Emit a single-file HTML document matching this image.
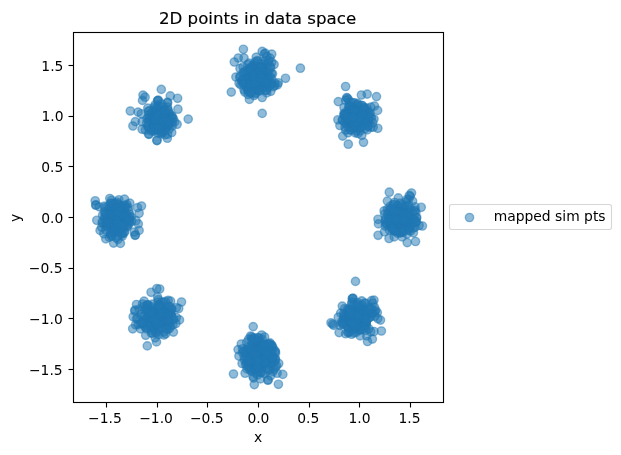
<!DOCTYPE html>
<html lang="en">
<head>
<meta charset="utf-8">
<title>2D points in data space</title>
<style>
html,body{margin:0;padding:0;background:#fff;}
body{width:621px;height:455px;overflow:hidden;}
svg{display:block;}
text{font-family:"DejaVu Sans","Liberation Sans",sans-serif;fill:#000;}
.t{font-size:13.889px;}
.ttl{font-size:16.667px;stroke:#000;stroke-width:0.15px;}
.pt{fill:#1f77b4;fill-opacity:.5;stroke:#1f77b4;stroke-opacity:.5;stroke-width:1.389;}
.ax{stroke:#000;stroke-width:1.111;fill:none;}
</style>
</head>
<body>
<svg width="621" height="455" viewBox="0 0 621 455">
<rect x="0" y="0" width="621" height="455" fill="#fff"/>
<defs><clipPath id="axclip"><rect x="73.5" y="32.5" width="370" height="370"/></clipPath></defs>
<g class="pt" clip-path="url(#axclip)">
<circle cx="243.4" cy="49.3" r="4.167"/><circle cx="262.2" cy="51.4" r="4.167"/><circle cx="271.7" cy="54.2" r="4.167"/><circle cx="265.2" cy="53.1" r="4.167"/>
<circle cx="238.3" cy="58.0" r="4.167"/><circle cx="234.3" cy="62.0" r="4.167"/><circle cx="244.0" cy="58.0" r="4.167"/><circle cx="256.2" cy="57.1" r="4.167"/>
<circle cx="300.4" cy="68.2" r="4.167"/><circle cx="285.5" cy="78.3" r="4.167"/><circle cx="231.3" cy="92.1" r="4.167"/><circle cx="249.4" cy="99.4" r="4.167"/>
<circle cx="262.2" cy="97.5" r="4.167"/><circle cx="270.8" cy="91.3" r="4.167"/><circle cx="278.2" cy="82.8" r="4.167"/><circle cx="274.1" cy="64.5" r="4.167"/>
<circle cx="272.5" cy="73.7" r="4.167"/><circle cx="235.9" cy="77.0" r="4.167"/><circle cx="240.0" cy="68.5" r="4.167"/><circle cx="239.1" cy="83.2" r="4.167"/>
<circle cx="244.0" cy="89.7" r="4.167"/><circle cx="274.9" cy="85.6" r="4.167"/><circle cx="262.2" cy="113.4" r="4.167"/><circle cx="264.3" cy="54.2" r="4.167"/>
<circle cx="266.8" cy="56.5" r="4.167"/><circle cx="270.0" cy="58.1" r="4.167"/><circle cx="268.7" cy="60.7" r="4.167"/><circle cx="271.7" cy="62.3" r="4.167"/>
<circle cx="240.8" cy="84.8" r="4.167"/><circle cx="244.8" cy="92.1" r="4.167"/><circle cx="242.4" cy="79.9" r="4.167"/><circle cx="248.1" cy="94.5" r="4.167"/>
<circle cx="254.1" cy="95.5" r="4.167"/><circle cx="274.9" cy="83.2" r="4.167"/><circle cx="277.5" cy="84.8" r="4.167"/><circle cx="273.3" cy="86.7" r="4.167"/>
<circle cx="255.7" cy="92.9" r="4.167"/><circle cx="266.8" cy="92.9" r="4.167"/><circle cx="258.9" cy="80.1" r="4.167"/><circle cx="256.7" cy="77.6" r="4.167"/>
<circle cx="256.5" cy="75.7" r="4.167"/><circle cx="258.9" cy="81.5" r="4.167"/><circle cx="251.2" cy="79.4" r="4.167"/><circle cx="262.6" cy="73.5" r="4.167"/>
<circle cx="255.6" cy="81.1" r="4.167"/><circle cx="254.5" cy="74.4" r="4.167"/><circle cx="261.0" cy="78.2" r="4.167"/><circle cx="253.2" cy="81.2" r="4.167"/>
<circle cx="258.8" cy="72.7" r="4.167"/><circle cx="257.0" cy="84.4" r="4.167"/><circle cx="254.8" cy="75.2" r="4.167"/><circle cx="263.0" cy="73.7" r="4.167"/>
<circle cx="253.1" cy="80.5" r="4.167"/><circle cx="257.2" cy="72.9" r="4.167"/><circle cx="264.0" cy="82.4" r="4.167"/><circle cx="250.8" cy="77.0" r="4.167"/>
<circle cx="262.5" cy="72.5" r="4.167"/><circle cx="256.8" cy="82.0" r="4.167"/><circle cx="252.6" cy="72.0" r="4.167"/><circle cx="263.8" cy="79.1" r="4.167"/>
<circle cx="251.6" cy="79.6" r="4.167"/><circle cx="259.9" cy="68.5" r="4.167"/><circle cx="259.7" cy="85.2" r="4.167"/><circle cx="248.0" cy="74.1" r="4.167"/>
<circle cx="263.5" cy="72.8" r="4.167"/><circle cx="252.1" cy="85.1" r="4.167"/><circle cx="252.6" cy="66.9" r="4.167"/><circle cx="266.3" cy="81.9" r="4.167"/>
<circle cx="248.6" cy="82.0" r="4.167"/><circle cx="262.8" cy="69.2" r="4.167"/><circle cx="257.2" cy="88.3" r="4.167"/><circle cx="250.0" cy="72.5" r="4.167"/>
<circle cx="266.5" cy="76.1" r="4.167"/><circle cx="247.7" cy="85.8" r="4.167"/><circle cx="255.1" cy="66.2" r="4.167"/><circle cx="264.4" cy="85.5" r="4.167"/>
<circle cx="246.6" cy="76.9" r="4.167"/><circle cx="263.1" cy="70.8" r="4.167"/><circle cx="256.6" cy="89.8" r="4.167"/><circle cx="249.4" cy="69.0" r="4.167"/>
<circle cx="267.9" cy="79.2" r="4.167"/><circle cx="245.5" cy="82.5" r="4.167"/><circle cx="262.5" cy="67.0" r="4.167"/><circle cx="260.0" cy="88.5" r="4.167"/>
<circle cx="248.0" cy="72.1" r="4.167"/><circle cx="267.3" cy="74.4" r="4.167"/><circle cx="248.5" cy="88.5" r="4.167"/><circle cx="252.8" cy="65.2" r="4.167"/>
<circle cx="267.0" cy="84.4" r="4.167"/><circle cx="244.2" cy="78.5" r="4.167"/><circle cx="265.7" cy="66.0" r="4.167"/><circle cx="256.3" cy="90.6" r="4.167"/>
<circle cx="249.3" cy="68.1" r="4.167"/><circle cx="268.6" cy="78.9" r="4.167"/><circle cx="246.9" cy="88.3" r="4.167"/><circle cx="260.3" cy="66.5" r="4.167"/>
<circle cx="263.0" cy="87.9" r="4.167"/><circle cx="244.1" cy="72.8" r="4.167"/><circle cx="267.5" cy="71.8" r="4.167"/><circle cx="251.7" cy="90.1" r="4.167"/>
<circle cx="253.4" cy="65.2" r="4.167"/><circle cx="269.8" cy="82.9" r="4.167"/><circle cx="243.6" cy="81.7" r="4.167"/><circle cx="263.6" cy="64.1" r="4.167"/>
<circle cx="260.4" cy="90.7" r="4.167"/><circle cx="245.4" cy="71.5" r="4.167"/><circle cx="271.3" cy="73.4" r="4.167"/><circle cx="248.2" cy="91.2" r="4.167"/>
<circle cx="258.2" cy="61.3" r="4.167"/><circle cx="267.8" cy="87.6" r="4.167"/><circle cx="239.7" cy="77.6" r="4.167"/><circle cx="270.0" cy="66.5" r="4.167"/>
<circle cx="255.2" cy="93.7" r="4.167"/><circle cx="247.8" cy="64.7" r="4.167"/><circle cx="271.6" cy="78.5" r="4.167"/><circle cx="245.2" cy="84.0" r="4.167"/>
<circle cx="261.0" cy="63.5" r="4.167"/><circle cx="265.7" cy="90.4" r="4.167"/><circle cx="243.3" cy="72.2" r="4.167"/><circle cx="268.6" cy="71.4" r="4.167"/>
<circle cx="250.8" cy="92.5" r="4.167"/><circle cx="255.0" cy="62.2" r="4.167"/><circle cx="270.0" cy="85.6" r="4.167"/><circle cx="242.0" cy="81.4" r="4.167"/>
<circle cx="267.9" cy="62.9" r="4.167"/><circle cx="258.9" cy="90.8" r="4.167"/><circle cx="243.1" cy="66.8" r="4.167"/><circle cx="270.0" cy="77.3" r="4.167"/>
<circle cx="247.3" cy="88.0" r="4.167"/><circle cx="257.0" cy="60.6" r="4.167"/><circle cx="266.4" cy="90.4" r="4.167"/><circle cx="240.2" cy="76.0" r="4.167"/>
<circle cx="270.7" cy="67.7" r="4.167"/><circle cx="250.5" cy="93.2" r="4.167"/><circle cx="249.0" cy="63.2" r="4.167"/><circle cx="271.7" cy="83.6" r="4.167"/>
<circle cx="243.0" cy="83.8" r="4.167"/><circle cx="264.4" cy="61.1" r="4.167"/><circle cx="250.5" cy="76.9" r="4.167"/><circle cx="264.1" cy="79.5" r="4.167"/>
<circle cx="256.9" cy="82.1" r="4.167"/><circle cx="260.7" cy="78.4" r="4.167"/><circle cx="260.5" cy="67.8" r="4.167"/><circle cx="260.9" cy="68.6" r="4.167"/>
<circle cx="257.5" cy="82.3" r="4.167"/><circle cx="255.7" cy="81.5" r="4.167"/><circle cx="261.2" cy="66.8" r="4.167"/><circle cx="255.8" cy="79.5" r="4.167"/>
<circle cx="253.4" cy="68.5" r="4.167"/><circle cx="264.2" cy="78.0" r="4.167"/><circle cx="252.9" cy="71.2" r="4.167"/><circle cx="255.8" cy="83.4" r="4.167"/>
<circle cx="253.4" cy="79.4" r="4.167"/><circle cx="257.8" cy="75.3" r="4.167"/><circle cx="256.3" cy="77.0" r="4.167"/><circle cx="251.0" cy="68.3" r="4.167"/>
<circle cx="260.1" cy="85.1" r="4.167"/><circle cx="259.5" cy="71.8" r="4.167"/><circle cx="256.5" cy="73.7" r="4.167"/><circle cx="248.7" cy="70.9" r="4.167"/>
<circle cx="253.3" cy="79.9" r="4.167"/><circle cx="250.2" cy="83.4" r="4.167"/><circle cx="256.6" cy="83.8" r="4.167"/><circle cx="261.9" cy="78.0" r="4.167"/>
<circle cx="257.2" cy="78.8" r="4.167"/><circle cx="258.2" cy="81.1" r="4.167"/><circle cx="266.7" cy="80.7" r="4.167"/><circle cx="265.3" cy="82.6" r="4.167"/>
<circle cx="254.7" cy="80.0" r="4.167"/><circle cx="260.3" cy="82.2" r="4.167"/><circle cx="254.6" cy="83.4" r="4.167"/><circle cx="253.5" cy="76.1" r="4.167"/>
<circle cx="260.3" cy="78.1" r="4.167"/><circle cx="345.6" cy="86.5" r="4.167"/><circle cx="361.4" cy="95.0" r="4.167"/><circle cx="367.2" cy="94.1" r="4.167"/>
<circle cx="376.5" cy="96.6" r="4.167"/><circle cx="338.3" cy="101.6" r="4.167"/><circle cx="347.2" cy="98.2" r="4.167"/><circle cx="374.4" cy="106.0" r="4.167"/>
<circle cx="377.6" cy="110.4" r="4.167"/><circle cx="337.9" cy="119.8" r="4.167"/><circle cx="339.9" cy="125.5" r="4.167"/><circle cx="342.7" cy="136.1" r="4.167"/>
<circle cx="348.3" cy="144.2" r="4.167"/><circle cx="363.5" cy="142.3" r="4.167"/><circle cx="361.8" cy="135.3" r="4.167"/><circle cx="377.8" cy="128.3" r="4.167"/>
<circle cx="373.2" cy="127.2" r="4.167"/><circle cx="374.0" cy="119.0" r="4.167"/><circle cx="348.0" cy="132.8" r="4.167"/><circle cx="344.0" cy="107.6" r="4.167"/>
<circle cx="342.3" cy="119.8" r="4.167"/><circle cx="355.3" cy="132.8" r="4.167"/><circle cx="346.7" cy="97.6" r="4.167"/><circle cx="348.3" cy="99.5" r="4.167"/>
<circle cx="345.7" cy="100.2" r="4.167"/><circle cx="349.7" cy="102.0" r="4.167"/><circle cx="371.6" cy="118.2" r="4.167"/><circle cx="372.7" cy="122.6" r="4.167"/>
<circle cx="370.8" cy="127.2" r="4.167"/><circle cx="370.0" cy="113.3" r="4.167"/><circle cx="344.0" cy="113.3" r="4.167"/><circle cx="345.1" cy="127.2" r="4.167"/>
<circle cx="357.6" cy="115.3" r="4.167"/><circle cx="356.8" cy="120.0" r="4.167"/><circle cx="357.3" cy="115.6" r="4.167"/><circle cx="361.2" cy="121.4" r="4.167"/>
<circle cx="355.2" cy="117.9" r="4.167"/><circle cx="359.4" cy="116.8" r="4.167"/><circle cx="354.5" cy="121.4" r="4.167"/><circle cx="355.0" cy="111.7" r="4.167"/>
<circle cx="361.4" cy="121.3" r="4.167"/><circle cx="352.8" cy="118.2" r="4.167"/><circle cx="359.4" cy="114.0" r="4.167"/><circle cx="359.2" cy="123.0" r="4.167"/>
<circle cx="351.2" cy="115.4" r="4.167"/><circle cx="363.4" cy="118.0" r="4.167"/><circle cx="356.0" cy="123.6" r="4.167"/><circle cx="354.7" cy="109.6" r="4.167"/>
<circle cx="360.8" cy="122.4" r="4.167"/><circle cx="350.2" cy="119.6" r="4.167"/><circle cx="362.3" cy="113.2" r="4.167"/><circle cx="358.0" cy="125.3" r="4.167"/>
<circle cx="351.4" cy="115.0" r="4.167"/><circle cx="366.1" cy="120.6" r="4.167"/><circle cx="350.7" cy="119.9" r="4.167"/><circle cx="357.2" cy="108.7" r="4.167"/>
<circle cx="362.2" cy="125.8" r="4.167"/><circle cx="352.0" cy="117.8" r="4.167"/><circle cx="365.1" cy="114.6" r="4.167"/><circle cx="354.0" cy="125.2" r="4.167"/>
<circle cx="353.4" cy="110.1" r="4.167"/><circle cx="365.1" cy="121.4" r="4.167"/><circle cx="348.5" cy="120.6" r="4.167"/><circle cx="363.6" cy="110.1" r="4.167"/>
<circle cx="359.2" cy="126.3" r="4.167"/><circle cx="350.3" cy="111.5" r="4.167"/><circle cx="365.9" cy="116.2" r="4.167"/><circle cx="351.9" cy="126.4" r="4.167"/>
<circle cx="356.4" cy="109.5" r="4.167"/><circle cx="363.1" cy="124.7" r="4.167"/><circle cx="345.6" cy="113.9" r="4.167"/><circle cx="365.9" cy="110.2" r="4.167"/>
<circle cx="356.7" cy="128.0" r="4.167"/><circle cx="352.6" cy="110.4" r="4.167"/><circle cx="366.8" cy="116.6" r="4.167"/><circle cx="346.6" cy="123.8" r="4.167"/>
<circle cx="363.3" cy="107.4" r="4.167"/><circle cx="360.4" cy="126.3" r="4.167"/><circle cx="348.9" cy="110.8" r="4.167"/><circle cx="365.8" cy="114.6" r="4.167"/>
<circle cx="352.3" cy="127.2" r="4.167"/><circle cx="356.5" cy="105.0" r="4.167"/><circle cx="364.7" cy="123.9" r="4.167"/><circle cx="346.8" cy="118.8" r="4.167"/>
<circle cx="366.9" cy="108.0" r="4.167"/><circle cx="358.6" cy="129.0" r="4.167"/><circle cx="350.1" cy="108.6" r="4.167"/><circle cx="368.2" cy="120.3" r="4.167"/>
<circle cx="348.4" cy="127.6" r="4.167"/><circle cx="358.1" cy="104.9" r="4.167"/><circle cx="365.3" cy="125.0" r="4.167"/><circle cx="344.2" cy="114.9" r="4.167"/>
<circle cx="368.2" cy="112.1" r="4.167"/><circle cx="353.4" cy="128.2" r="4.167"/><circle cx="353.5" cy="106.5" r="4.167"/><circle cx="367.1" cy="122.9" r="4.167"/>
<circle cx="348.3" cy="122.3" r="4.167"/><circle cx="361.7" cy="105.5" r="4.167"/><circle cx="360.1" cy="131.0" r="4.167"/><circle cx="348.2" cy="109.3" r="4.167"/>
<circle cx="368.9" cy="116.7" r="4.167"/><circle cx="350.6" cy="130.1" r="4.167"/><circle cx="354.7" cy="102.9" r="4.167"/><circle cx="368.0" cy="126.0" r="4.167"/>
<circle cx="345.1" cy="117.5" r="4.167"/><circle cx="366.1" cy="110.1" r="4.167"/><circle cx="356.2" cy="131.1" r="4.167"/><circle cx="349.4" cy="106.7" r="4.167"/>
<circle cx="368.4" cy="119.3" r="4.167"/><circle cx="344.7" cy="122.8" r="4.167"/><circle cx="362.2" cy="105.5" r="4.167"/><circle cx="365.0" cy="128.6" r="4.167"/>
<circle cx="345.3" cy="113.4" r="4.167"/><circle cx="369.3" cy="113.2" r="4.167"/><circle cx="350.2" cy="129.8" r="4.167"/><circle cx="352.5" cy="102.5" r="4.167"/>
<circle cx="368.1" cy="126.6" r="4.167"/><circle cx="342.6" cy="120.3" r="4.167"/><circle cx="364.8" cy="108.0" r="4.167"/><circle cx="358.0" cy="133.5" r="4.167"/>
<circle cx="349.0" cy="106.3" r="4.167"/><circle cx="370.6" cy="116.8" r="4.167"/><circle cx="345.6" cy="130.1" r="4.167"/><circle cx="357.7" cy="103.4" r="4.167"/>
<circle cx="367.2" cy="129.9" r="4.167"/><circle cx="344.2" cy="115.1" r="4.167"/><circle cx="370.8" cy="107.2" r="4.167"/><circle cx="353.8" cy="124.1" r="4.167"/>
<circle cx="347.2" cy="120.2" r="4.167"/><circle cx="355.4" cy="114.8" r="4.167"/><circle cx="354.1" cy="124.5" r="4.167"/><circle cx="350.0" cy="122.1" r="4.167"/>
<circle cx="359.8" cy="115.5" r="4.167"/><circle cx="357.0" cy="121.4" r="4.167"/><circle cx="354.6" cy="109.7" r="4.167"/><circle cx="358.8" cy="113.3" r="4.167"/>
<circle cx="355.5" cy="118.0" r="4.167"/><circle cx="361.0" cy="127.3" r="4.167"/><circle cx="359.1" cy="118.3" r="4.167"/><circle cx="361.4" cy="119.2" r="4.167"/>
<circle cx="349.3" cy="114.6" r="4.167"/><circle cx="351.5" cy="121.4" r="4.167"/><circle cx="363.6" cy="119.6" r="4.167"/><circle cx="352.5" cy="121.9" r="4.167"/>
<circle cx="352.8" cy="119.1" r="4.167"/><circle cx="351.7" cy="110.4" r="4.167"/><circle cx="350.7" cy="117.8" r="4.167"/><circle cx="354.3" cy="120.0" r="4.167"/>
<circle cx="351.2" cy="120.3" r="4.167"/><circle cx="354.5" cy="124.3" r="4.167"/><circle cx="362.4" cy="116.6" r="4.167"/><circle cx="358.0" cy="119.0" r="4.167"/>
<circle cx="359.7" cy="116.3" r="4.167"/><circle cx="362.7" cy="115.0" r="4.167"/><circle cx="348.2" cy="119.0" r="4.167"/><circle cx="356.9" cy="122.1" r="4.167"/>
<circle cx="360.3" cy="118.4" r="4.167"/><circle cx="358.0" cy="118.4" r="4.167"/><circle cx="354.3" cy="111.3" r="4.167"/><circle cx="353.5" cy="117.2" r="4.167"/>
<circle cx="346.5" cy="115.4" r="4.167"/><circle cx="352.7" cy="117.3" r="4.167"/><circle cx="389.3" cy="192.2" r="4.167"/><circle cx="411.5" cy="193.0" r="4.167"/>
<circle cx="410.2" cy="196.3" r="4.167"/><circle cx="398.3" cy="197.9" r="4.167"/><circle cx="387.4" cy="201.1" r="4.167"/><circle cx="412.6" cy="201.1" r="4.167"/>
<circle cx="421.2" cy="207.3" r="4.167"/><circle cx="384.1" cy="210.9" r="4.167"/><circle cx="378.0" cy="219.3" r="4.167"/><circle cx="378.5" cy="223.9" r="4.167"/>
<circle cx="378.1" cy="235.3" r="4.167"/><circle cx="384.5" cy="231.7" r="4.167"/><circle cx="389.0" cy="238.5" r="4.167"/><circle cx="402.0" cy="236.9" r="4.167"/>
<circle cx="407.2" cy="242.6" r="4.167"/><circle cx="415.5" cy="241.5" r="4.167"/><circle cx="413.4" cy="232.8" r="4.167"/><circle cx="422.4" cy="226.0" r="4.167"/>
<circle cx="419.1" cy="225.5" r="4.167"/><circle cx="416.7" cy="217.4" r="4.167"/><circle cx="415.0" cy="206.8" r="4.167"/><circle cx="394.2" cy="236.9" r="4.167"/>
<circle cx="408.5" cy="230.4" r="4.167"/><circle cx="409.3" cy="195.4" r="4.167"/><circle cx="408.5" cy="199.5" r="4.167"/><circle cx="406.1" cy="202.0" r="4.167"/>
<circle cx="415.9" cy="212.5" r="4.167"/><circle cx="416.3" cy="221.5" r="4.167"/><circle cx="415.0" cy="227.2" r="4.167"/><circle cx="399.4" cy="219.0" r="4.167"/>
<circle cx="399.0" cy="220.8" r="4.167"/><circle cx="398.7" cy="217.3" r="4.167"/><circle cx="402.3" cy="222.1" r="4.167"/><circle cx="397.0" cy="219.4" r="4.167"/>
<circle cx="405.6" cy="215.8" r="4.167"/><circle cx="398.5" cy="225.0" r="4.167"/><circle cx="395.9" cy="215.0" r="4.167"/><circle cx="403.4" cy="220.4" r="4.167"/>
<circle cx="395.4" cy="218.4" r="4.167"/><circle cx="400.7" cy="212.0" r="4.167"/><circle cx="401.0" cy="223.3" r="4.167"/><circle cx="396.3" cy="215.0" r="4.167"/>
<circle cx="407.7" cy="216.9" r="4.167"/><circle cx="396.3" cy="224.0" r="4.167"/><circle cx="398.8" cy="210.7" r="4.167"/><circle cx="405.2" cy="223.6" r="4.167"/>
<circle cx="392.9" cy="219.7" r="4.167"/><circle cx="403.7" cy="213.2" r="4.167"/><circle cx="398.5" cy="224.1" r="4.167"/><circle cx="395.2" cy="212.1" r="4.167"/>
<circle cx="407.2" cy="222.4" r="4.167"/><circle cx="393.3" cy="223.4" r="4.167"/><circle cx="402.7" cy="212.2" r="4.167"/><circle cx="405.9" cy="225.3" r="4.167"/>
<circle cx="393.7" cy="215.9" r="4.167"/><circle cx="406.0" cy="213.9" r="4.167"/><circle cx="397.5" cy="227.8" r="4.167"/><circle cx="398.1" cy="209.1" r="4.167"/>
<circle cx="407.2" cy="221.5" r="4.167"/><circle cx="388.3" cy="221.1" r="4.167"/><circle cx="406.6" cy="212.1" r="4.167"/><circle cx="400.3" cy="229.6" r="4.167"/>
<circle cx="391.2" cy="213.1" r="4.167"/><circle cx="410.4" cy="217.4" r="4.167"/><circle cx="391.8" cy="226.9" r="4.167"/><circle cx="399.4" cy="207.8" r="4.167"/>
<circle cx="407.2" cy="226.1" r="4.167"/><circle cx="389.7" cy="216.6" r="4.167"/><circle cx="408.8" cy="211.1" r="4.167"/><circle cx="397.2" cy="227.0" r="4.167"/>
<circle cx="395.2" cy="209.6" r="4.167"/><circle cx="410.7" cy="219.6" r="4.167"/><circle cx="390.0" cy="223.3" r="4.167"/><circle cx="404.9" cy="206.2" r="4.167"/>
<circle cx="404.3" cy="230.5" r="4.167"/><circle cx="387.8" cy="213.9" r="4.167"/><circle cx="409.3" cy="215.3" r="4.167"/><circle cx="394.1" cy="230.4" r="4.167"/>
<circle cx="397.3" cy="206.2" r="4.167"/><circle cx="410.0" cy="225.7" r="4.167"/><circle cx="389.0" cy="219.5" r="4.167"/><circle cx="409.1" cy="209.6" r="4.167"/>
<circle cx="400.3" cy="232.3" r="4.167"/><circle cx="390.3" cy="209.2" r="4.167"/><circle cx="412.7" cy="219.2" r="4.167"/><circle cx="389.9" cy="226.3" r="4.167"/>
<circle cx="401.0" cy="207.0" r="4.167"/><circle cx="409.2" cy="227.7" r="4.167"/><circle cx="388.8" cy="216.7" r="4.167"/><circle cx="412.4" cy="212.4" r="4.167"/>
<circle cx="394.7" cy="231.1" r="4.167"/><circle cx="393.0" cy="204.5" r="4.167"/><circle cx="411.8" cy="224.3" r="4.167"/><circle cx="386.6" cy="223.5" r="4.167"/>
<circle cx="404.1" cy="207.9" r="4.167"/><circle cx="402.8" cy="232.1" r="4.167"/><circle cx="388.9" cy="210.5" r="4.167"/><circle cx="416.4" cy="217.9" r="4.167"/>
<circle cx="392.5" cy="230.0" r="4.167"/><circle cx="397.6" cy="205.1" r="4.167"/><circle cx="409.1" cy="228.7" r="4.167"/><circle cx="385.6" cy="220.0" r="4.167"/>
<circle cx="410.8" cy="209.2" r="4.167"/><circle cx="399.9" cy="233.1" r="4.167"/><circle cx="390.2" cy="206.3" r="4.167"/><circle cx="415.7" cy="221.5" r="4.167"/>
<circle cx="386.4" cy="224.2" r="4.167"/><circle cx="402.3" cy="204.6" r="4.167"/><circle cx="407.0" cy="234.1" r="4.167"/><circle cx="384.7" cy="214.0" r="4.167"/>
<circle cx="415.2" cy="210.3" r="4.167"/><circle cx="395.8" cy="231.2" r="4.167"/><circle cx="393.8" cy="205.0" r="4.167"/><circle cx="413.3" cy="228.1" r="4.167"/>
<circle cx="385.2" cy="222.3" r="4.167"/><circle cx="408.5" cy="205.0" r="4.167"/><circle cx="402.2" cy="232.1" r="4.167"/><circle cx="387.4" cy="209.3" r="4.167"/>
<circle cx="414.0" cy="219.2" r="4.167"/><circle cx="389.4" cy="230.0" r="4.167"/><circle cx="400.3" cy="203.2" r="4.167"/><circle cx="410.6" cy="231.0" r="4.167"/>
<circle cx="386.0" cy="218.2" r="4.167"/><circle cx="414.3" cy="211.1" r="4.167"/><circle cx="397.4" cy="233.1" r="4.167"/><circle cx="394.6" cy="202.5" r="4.167"/>
<circle cx="415.6" cy="222.6" r="4.167"/><circle cx="385.2" cy="226.1" r="4.167"/><circle cx="406.5" cy="199.8" r="4.167"/><circle cx="404.1" cy="220.1" r="4.167"/>
<circle cx="398.8" cy="214.5" r="4.167"/><circle cx="402.0" cy="215.7" r="4.167"/><circle cx="401.8" cy="216.7" r="4.167"/><circle cx="394.6" cy="212.3" r="4.167"/>
<circle cx="404.1" cy="219.3" r="4.167"/><circle cx="395.4" cy="215.5" r="4.167"/><circle cx="394.7" cy="230.8" r="4.167"/><circle cx="401.7" cy="219.7" r="4.167"/>
<circle cx="408.0" cy="215.1" r="4.167"/><circle cx="393.5" cy="215.9" r="4.167"/><circle cx="400.6" cy="217.6" r="4.167"/><circle cx="397.7" cy="219.5" r="4.167"/>
<circle cx="397.1" cy="212.5" r="4.167"/><circle cx="403.7" cy="217.1" r="4.167"/><circle cx="397.9" cy="221.5" r="4.167"/><circle cx="401.8" cy="212.3" r="4.167"/>
<circle cx="395.4" cy="210.7" r="4.167"/><circle cx="392.8" cy="220.3" r="4.167"/><circle cx="396.7" cy="213.2" r="4.167"/><circle cx="392.0" cy="225.6" r="4.167"/>
<circle cx="397.1" cy="219.8" r="4.167"/><circle cx="398.9" cy="213.2" r="4.167"/><circle cx="401.8" cy="219.2" r="4.167"/><circle cx="406.6" cy="221.8" r="4.167"/>
<circle cx="392.4" cy="217.7" r="4.167"/><circle cx="398.7" cy="218.0" r="4.167"/><circle cx="392.4" cy="209.0" r="4.167"/><circle cx="398.6" cy="220.3" r="4.167"/>
<circle cx="392.7" cy="228.8" r="4.167"/><circle cx="402.9" cy="215.7" r="4.167"/><circle cx="393.7" cy="212.4" r="4.167"/><circle cx="405.8" cy="214.3" r="4.167"/>
<circle cx="403.4" cy="219.8" r="4.167"/><circle cx="396.1" cy="219.2" r="4.167"/><circle cx="355.5" cy="281.4" r="4.167"/><circle cx="352.3" cy="298.8" r="4.167"/>
<circle cx="352.6" cy="298.5" r="4.167"/><circle cx="353.0" cy="298.2" r="4.167"/><circle cx="352.1" cy="302.2" r="4.167"/><circle cx="361.8" cy="300.9" r="4.167"/>
<circle cx="371.6" cy="300.6" r="4.167"/><circle cx="374.0" cy="300.1" r="4.167"/><circle cx="342.3" cy="306.1" r="4.167"/><circle cx="377.3" cy="312.6" r="4.167"/>
<circle cx="374.9" cy="311.5" r="4.167"/><circle cx="380.5" cy="320.1" r="4.167"/><circle cx="331.0" cy="322.8" r="4.167"/><circle cx="332.6" cy="324.0" r="4.167"/>
<circle cx="333.7" cy="325.3" r="4.167"/><circle cx="339.9" cy="325.3" r="4.167"/><circle cx="339.1" cy="332.6" r="4.167"/><circle cx="348.0" cy="332.6" r="4.167"/>
<circle cx="348.4" cy="332.3" r="4.167"/><circle cx="360.2" cy="335.9" r="4.167"/><circle cx="367.5" cy="341.5" r="4.167"/><circle cx="372.4" cy="339.1" r="4.167"/>
<circle cx="370.8" cy="331.8" r="4.167"/><circle cx="374.0" cy="331.5" r="4.167"/><circle cx="381.4" cy="331.0" r="4.167"/><circle cx="338.3" cy="317.2" r="4.167"/>
<circle cx="373.2" cy="313.1" r="4.167"/><circle cx="371.6" cy="309.0" r="4.167"/><circle cx="366.7" cy="335.9" r="4.167"/><circle cx="340.7" cy="313.1" r="4.167"/>
<circle cx="375.7" cy="310.3" r="4.167"/><circle cx="374.4" cy="307.1" r="4.167"/><circle cx="365.9" cy="303.3" r="4.167"/><circle cx="372.7" cy="303.3" r="4.167"/>
<circle cx="357.8" cy="302.5" r="4.167"/><circle cx="345.6" cy="333.7" r="4.167"/><circle cx="351.6" cy="334.2" r="4.167"/><circle cx="344.0" cy="318.8" r="4.167"/>
<circle cx="342.3" cy="323.7" r="4.167"/><circle cx="358.7" cy="315.9" r="4.167"/><circle cx="355.6" cy="321.5" r="4.167"/><circle cx="355.6" cy="316.4" r="4.167"/>
<circle cx="358.3" cy="322.3" r="4.167"/><circle cx="353.2" cy="316.8" r="4.167"/><circle cx="362.4" cy="317.8" r="4.167"/><circle cx="355.7" cy="319.5" r="4.167"/>
<circle cx="353.1" cy="315.0" r="4.167"/><circle cx="362.2" cy="317.9" r="4.167"/><circle cx="354.0" cy="320.6" r="4.167"/><circle cx="358.7" cy="313.5" r="4.167"/>
<circle cx="359.0" cy="322.4" r="4.167"/><circle cx="353.0" cy="315.2" r="4.167"/><circle cx="362.8" cy="318.1" r="4.167"/><circle cx="354.1" cy="321.1" r="4.167"/>
<circle cx="356.3" cy="310.9" r="4.167"/><circle cx="362.4" cy="322.7" r="4.167"/><circle cx="348.7" cy="319.6" r="4.167"/><circle cx="364.3" cy="314.0" r="4.167"/>
<circle cx="355.4" cy="324.7" r="4.167"/><circle cx="352.8" cy="313.4" r="4.167"/><circle cx="365.3" cy="318.2" r="4.167"/><circle cx="350.2" cy="323.2" r="4.167"/>
<circle cx="362.5" cy="311.3" r="4.167"/><circle cx="361.2" cy="325.5" r="4.167"/><circle cx="351.4" cy="315.9" r="4.167"/><circle cx="361.7" cy="314.2" r="4.167"/>
<circle cx="353.0" cy="324.3" r="4.167"/><circle cx="352.5" cy="309.3" r="4.167"/><circle cx="366.1" cy="322.7" r="4.167"/><circle cx="348.7" cy="318.7" r="4.167"/>
<circle cx="361.5" cy="311.3" r="4.167"/><circle cx="358.5" cy="326.5" r="4.167"/><circle cx="351.7" cy="314.4" r="4.167"/><circle cx="367.3" cy="315.4" r="4.167"/>
<circle cx="350.6" cy="323.4" r="4.167"/><circle cx="356.3" cy="308.6" r="4.167"/><circle cx="364.2" cy="326.2" r="4.167"/><circle cx="344.1" cy="318.1" r="4.167"/>
<circle cx="364.5" cy="312.2" r="4.167"/><circle cx="354.1" cy="329.5" r="4.167"/><circle cx="351.5" cy="310.7" r="4.167"/><circle cx="366.2" cy="321.9" r="4.167"/>
<circle cx="347.8" cy="321.6" r="4.167"/><circle cx="360.6" cy="307.7" r="4.167"/><circle cx="360.2" cy="329.3" r="4.167"/><circle cx="347.4" cy="313.1" r="4.167"/>
<circle cx="365.8" cy="316.1" r="4.167"/><circle cx="351.2" cy="326.8" r="4.167"/><circle cx="353.6" cy="309.3" r="4.167"/><circle cx="366.1" cy="324.0" r="4.167"/>
<circle cx="344.8" cy="318.8" r="4.167"/><circle cx="364.4" cy="309.5" r="4.167"/><circle cx="355.7" cy="328.3" r="4.167"/><circle cx="348.5" cy="311.2" r="4.167"/>
<circle cx="369.0" cy="317.7" r="4.167"/><circle cx="346.5" cy="325.7" r="4.167"/><circle cx="359.7" cy="307.7" r="4.167"/><circle cx="365.6" cy="327.2" r="4.167"/>
<circle cx="344.0" cy="316.6" r="4.167"/><circle cx="367.4" cy="312.9" r="4.167"/><circle cx="353.1" cy="327.6" r="4.167"/><circle cx="351.7" cy="306.7" r="4.167"/>
<circle cx="366.3" cy="321.6" r="4.167"/><circle cx="343.1" cy="321.3" r="4.167"/><circle cx="362.5" cy="308.2" r="4.167"/><circle cx="359.9" cy="330.3" r="4.167"/>
<circle cx="347.8" cy="308.8" r="4.167"/><circle cx="371.5" cy="316.1" r="4.167"/><circle cx="348.1" cy="326.5" r="4.167"/><circle cx="357.2" cy="305.6" r="4.167"/>
<circle cx="366.4" cy="325.5" r="4.167"/><circle cx="344.5" cy="319.8" r="4.167"/><circle cx="366.3" cy="309.3" r="4.167"/><circle cx="356.1" cy="332.3" r="4.167"/>
<circle cx="348.1" cy="310.0" r="4.167"/><circle cx="369.4" cy="317.5" r="4.167"/><circle cx="344.0" cy="323.9" r="4.167"/><circle cx="361.9" cy="305.2" r="4.167"/>
<circle cx="362.7" cy="329.1" r="4.167"/><circle cx="344.7" cy="314.7" r="4.167"/><circle cx="371.5" cy="313.2" r="4.167"/><circle cx="350.1" cy="331.9" r="4.167"/>
<circle cx="354.5" cy="305.1" r="4.167"/><circle cx="368.8" cy="328.8" r="4.167"/><circle cx="341.6" cy="321.7" r="4.167"/><circle cx="368.6" cy="306.8" r="4.167"/>
<circle cx="358.8" cy="329.8" r="4.167"/><circle cx="344.6" cy="308.7" r="4.167"/><circle cx="374.9" cy="316.3" r="4.167"/><circle cx="348.9" cy="328.5" r="4.167"/>
<circle cx="357.9" cy="304.2" r="4.167"/><circle cx="365.6" cy="330.3" r="4.167"/><circle cx="343.7" cy="313.8" r="4.167"/><circle cx="369.2" cy="308.3" r="4.167"/>
<circle cx="353.8" cy="332.9" r="4.167"/><circle cx="351.7" cy="303.8" r="4.167"/><circle cx="377.8" cy="318.6" r="4.167"/><circle cx="343.1" cy="324.3" r="4.167"/>
<circle cx="364.4" cy="303.1" r="4.167"/><circle cx="362.9" cy="322.1" r="4.167"/><circle cx="348.7" cy="316.0" r="4.167"/><circle cx="358.3" cy="312.1" r="4.167"/>
<circle cx="350.4" cy="314.3" r="4.167"/><circle cx="358.5" cy="320.3" r="4.167"/><circle cx="352.0" cy="320.7" r="4.167"/><circle cx="355.2" cy="325.9" r="4.167"/>
<circle cx="355.3" cy="316.9" r="4.167"/><circle cx="360.2" cy="320.4" r="4.167"/><circle cx="349.2" cy="315.9" r="4.167"/><circle cx="356.9" cy="316.7" r="4.167"/>
<circle cx="355.7" cy="316.1" r="4.167"/><circle cx="355.4" cy="321.1" r="4.167"/><circle cx="356.9" cy="317.1" r="4.167"/><circle cx="353.0" cy="324.6" r="4.167"/>
<circle cx="356.0" cy="326.4" r="4.167"/><circle cx="356.1" cy="313.4" r="4.167"/><circle cx="356.2" cy="316.8" r="4.167"/><circle cx="355.8" cy="317.9" r="4.167"/>
<circle cx="356.7" cy="324.5" r="4.167"/><circle cx="352.6" cy="313.2" r="4.167"/><circle cx="351.9" cy="324.6" r="4.167"/><circle cx="356.2" cy="319.2" r="4.167"/>
<circle cx="364.7" cy="318.9" r="4.167"/><circle cx="350.0" cy="320.4" r="4.167"/><circle cx="365.4" cy="318.8" r="4.167"/><circle cx="358.1" cy="318.9" r="4.167"/>
<circle cx="355.1" cy="325.5" r="4.167"/><circle cx="355.9" cy="316.2" r="4.167"/><circle cx="350.4" cy="310.0" r="4.167"/><circle cx="355.5" cy="320.9" r="4.167"/>
<circle cx="351.8" cy="315.4" r="4.167"/><circle cx="349.9" cy="312.4" r="4.167"/><circle cx="352.2" cy="322.7" r="4.167"/><circle cx="358.3" cy="315.0" r="4.167"/>
<circle cx="253.2" cy="326.6" r="4.167"/><circle cx="261.7" cy="335.0" r="4.167"/><circle cx="264.6" cy="337.0" r="4.167"/><circle cx="251.6" cy="337.0" r="4.167"/>
<circle cx="241.3" cy="344.0" r="4.167"/><circle cx="238.1" cy="349.6" r="4.167"/><circle cx="238.9" cy="356.1" r="4.167"/><circle cx="242.1" cy="363.5" r="4.167"/>
<circle cx="233.5" cy="374.0" r="4.167"/><circle cx="245.1" cy="373.2" r="4.167"/><circle cx="253.5" cy="378.1" r="4.167"/><circle cx="254.3" cy="384.6" r="4.167"/>
<circle cx="260.4" cy="378.9" r="4.167"/><circle cx="267.8" cy="380.2" r="4.167"/><circle cx="268.2" cy="379.9" r="4.167"/><circle cx="278.4" cy="384.3" r="4.167"/>
<circle cx="282.8" cy="374.4" r="4.167"/><circle cx="277.1" cy="373.2" r="4.167"/><circle cx="278.7" cy="363.5" r="4.167"/><circle cx="275.5" cy="353.2" r="4.167"/>
<circle cx="269.8" cy="344.0" r="4.167"/><circle cx="273.0" cy="348.0" r="4.167"/><circle cx="273.9" cy="369.2" r="4.167"/><circle cx="275.5" cy="359.4" r="4.167"/>
<circle cx="276.6" cy="365.6" r="4.167"/><circle cx="273.0" cy="371.6" r="4.167"/><circle cx="271.7" cy="345.1" r="4.167"/><circle cx="275.0" cy="350.9" r="4.167"/>
<circle cx="250.6" cy="336.0" r="4.167"/><circle cx="252.9" cy="338.3" r="4.167"/><circle cx="248.7" cy="339.1" r="4.167"/><circle cx="270.6" cy="375.7" r="4.167"/>
<circle cx="261.0" cy="356.3" r="4.167"/><circle cx="258.1" cy="358.1" r="4.167"/><circle cx="258.9" cy="351.4" r="4.167"/><circle cx="262.6" cy="358.1" r="4.167"/>
<circle cx="254.6" cy="355.5" r="4.167"/><circle cx="259.4" cy="353.2" r="4.167"/><circle cx="259.7" cy="361.5" r="4.167"/><circle cx="256.4" cy="351.9" r="4.167"/>
<circle cx="263.9" cy="357.0" r="4.167"/><circle cx="253.3" cy="360.1" r="4.167"/><circle cx="259.3" cy="351.4" r="4.167"/><circle cx="261.7" cy="362.1" r="4.167"/>
<circle cx="253.7" cy="355.3" r="4.167"/><circle cx="264.1" cy="353.4" r="4.167"/><circle cx="257.0" cy="364.3" r="4.167"/><circle cx="254.6" cy="348.3" r="4.167"/>
<circle cx="268.4" cy="359.1" r="4.167"/><circle cx="251.4" cy="356.1" r="4.167"/><circle cx="261.8" cy="349.5" r="4.167"/><circle cx="259.6" cy="364.5" r="4.167"/>
<circle cx="252.1" cy="351.5" r="4.167"/><circle cx="267.3" cy="354.0" r="4.167"/><circle cx="252.2" cy="364.1" r="4.167"/><circle cx="258.2" cy="346.1" r="4.167"/>
<circle cx="263.0" cy="363.0" r="4.167"/><circle cx="250.1" cy="356.3" r="4.167"/><circle cx="266.8" cy="351.0" r="4.167"/><circle cx="256.9" cy="368.7" r="4.167"/>
<circle cx="254.1" cy="347.4" r="4.167"/><circle cx="267.9" cy="360.3" r="4.167"/><circle cx="249.9" cy="361.1" r="4.167"/><circle cx="262.1" cy="347.9" r="4.167"/>
<circle cx="261.6" cy="368.2" r="4.167"/><circle cx="246.7" cy="351.2" r="4.167"/><circle cx="268.6" cy="354.2" r="4.167"/><circle cx="252.8" cy="367.8" r="4.167"/>
<circle cx="257.1" cy="344.2" r="4.167"/><circle cx="267.2" cy="363.1" r="4.167"/><circle cx="246.6" cy="361.3" r="4.167"/><circle cx="265.4" cy="345.6" r="4.167"/>
<circle cx="260.5" cy="369.1" r="4.167"/><circle cx="250.3" cy="347.8" r="4.167"/><circle cx="270.9" cy="356.3" r="4.167"/><circle cx="249.8" cy="366.8" r="4.167"/>
<circle cx="260.0" cy="343.2" r="4.167"/><circle cx="267.1" cy="364.1" r="4.167"/><circle cx="246.0" cy="354.6" r="4.167"/><circle cx="269.0" cy="350.2" r="4.167"/>
<circle cx="254.8" cy="368.6" r="4.167"/><circle cx="252.3" cy="343.9" r="4.167"/><circle cx="271.3" cy="362.8" r="4.167"/><circle cx="248.3" cy="362.5" r="4.167"/>
<circle cx="261.9" cy="344.5" r="4.167"/><circle cx="261.9" cy="372.4" r="4.167"/><circle cx="247.5" cy="349.5" r="4.167"/><circle cx="271.3" cy="353.1" r="4.167"/>
<circle cx="250.4" cy="368.7" r="4.167"/><circle cx="257.7" cy="341.1" r="4.167"/><circle cx="270.9" cy="366.1" r="4.167"/><circle cx="246.5" cy="356.5" r="4.167"/>
<circle cx="268.8" cy="344.4" r="4.167"/><circle cx="260.1" cy="372.0" r="4.167"/><circle cx="251.2" cy="345.5" r="4.167"/><circle cx="272.7" cy="357.4" r="4.167"/>
<circle cx="246.4" cy="363.5" r="4.167"/><circle cx="261.2" cy="342.3" r="4.167"/><circle cx="267.0" cy="368.3" r="4.167"/><circle cx="243.7" cy="351.2" r="4.167"/>
<circle cx="272.2" cy="350.6" r="4.167"/><circle cx="252.6" cy="371.5" r="4.167"/><circle cx="253.8" cy="340.0" r="4.167"/><circle cx="272.6" cy="362.6" r="4.167"/>
<circle cx="244.4" cy="359.7" r="4.167"/><circle cx="267.3" cy="344.0" r="4.167"/><circle cx="260.6" cy="372.9" r="4.167"/><circle cx="247.8" cy="347.3" r="4.167"/>
<circle cx="273.1" cy="356.9" r="4.167"/><circle cx="248.4" cy="367.2" r="4.167"/><circle cx="259.0" cy="338.1" r="4.167"/><circle cx="269.2" cy="369.9" r="4.167"/>
<circle cx="245.5" cy="352.3" r="4.167"/><circle cx="272.0" cy="346.8" r="4.167"/><circle cx="255.8" cy="373.1" r="4.167"/><circle cx="251.7" cy="340.0" r="4.167"/>
<circle cx="275.0" cy="361.5" r="4.167"/><circle cx="245.6" cy="364.5" r="4.167"/><circle cx="262.2" cy="339.4" r="4.167"/><circle cx="264.9" cy="373.6" r="4.167"/>
<circle cx="242.5" cy="348.8" r="4.167"/><circle cx="275.4" cy="351.6" r="4.167"/><circle cx="250.3" cy="370.3" r="4.167"/><circle cx="256.9" cy="340.1" r="4.167"/>
<circle cx="275.6" cy="367.3" r="4.167"/><circle cx="244.2" cy="356.7" r="4.167"/><circle cx="270.0" cy="342.9" r="4.167"/><circle cx="257.5" cy="375.0" r="4.167"/>
<circle cx="246.7" cy="342.4" r="4.167"/><circle cx="275.2" cy="358.5" r="4.167"/><circle cx="246.9" cy="368.9" r="4.167"/><circle cx="258.2" cy="337.7" r="4.167"/>
<circle cx="268.0" cy="370.1" r="4.167"/><circle cx="242.6" cy="352.5" r="4.167"/><circle cx="271.6" cy="345.4" r="4.167"/><circle cx="253.1" cy="376.5" r="4.167"/>
<circle cx="254.6" cy="337.9" r="4.167"/><circle cx="258.8" cy="350.8" r="4.167"/><circle cx="262.9" cy="351.6" r="4.167"/><circle cx="259.5" cy="363.7" r="4.167"/>
<circle cx="259.5" cy="350.0" r="4.167"/><circle cx="261.0" cy="364.2" r="4.167"/><circle cx="266.0" cy="345.9" r="4.167"/><circle cx="261.5" cy="359.8" r="4.167"/>
<circle cx="257.4" cy="349.5" r="4.167"/><circle cx="254.7" cy="351.4" r="4.167"/><circle cx="271.2" cy="358.7" r="4.167"/><circle cx="257.7" cy="359.6" r="4.167"/>
<circle cx="267.4" cy="356.8" r="4.167"/><circle cx="264.3" cy="361.6" r="4.167"/><circle cx="256.8" cy="367.5" r="4.167"/><circle cx="261.1" cy="364.8" r="4.167"/>
<circle cx="267.6" cy="354.5" r="4.167"/><circle cx="254.9" cy="353.3" r="4.167"/><circle cx="272.3" cy="357.7" r="4.167"/><circle cx="257.4" cy="367.6" r="4.167"/>
<circle cx="255.5" cy="369.8" r="4.167"/><circle cx="255.6" cy="359.6" r="4.167"/><circle cx="260.0" cy="359.6" r="4.167"/><circle cx="265.0" cy="362.3" r="4.167"/>
<circle cx="252.5" cy="350.5" r="4.167"/><circle cx="258.9" cy="362.2" r="4.167"/><circle cx="257.3" cy="353.2" r="4.167"/><circle cx="248.5" cy="360.5" r="4.167"/>
<circle cx="260.5" cy="350.4" r="4.167"/><circle cx="257.3" cy="366.5" r="4.167"/><circle cx="255.7" cy="352.2" r="4.167"/><circle cx="263.1" cy="344.9" r="4.167"/>
<circle cx="257.0" cy="355.4" r="4.167"/><circle cx="254.6" cy="354.1" r="4.167"/><circle cx="257.1" cy="357.6" r="4.167"/><circle cx="257.7" cy="361.1" r="4.167"/>
<circle cx="156.8" cy="288.7" r="4.167"/><circle cx="159.7" cy="289.0" r="4.167"/><circle cx="151.1" cy="292.3" r="4.167"/><circle cx="157.6" cy="297.1" r="4.167"/>
<circle cx="181.5" cy="302.0" r="4.167"/><circle cx="170.6" cy="301.2" r="4.167"/><circle cx="168.2" cy="300.4" r="4.167"/><circle cx="144.1" cy="301.2" r="4.167"/>
<circle cx="136.5" cy="304.5" r="4.167"/><circle cx="178.7" cy="308.5" r="4.167"/><circle cx="133.2" cy="316.7" r="4.167"/><circle cx="134.8" cy="311.0" r="4.167"/>
<circle cx="179.5" cy="319.9" r="4.167"/><circle cx="176.3" cy="317.5" r="4.167"/><circle cx="132.7" cy="328.8" r="4.167"/><circle cx="135.6" cy="324.8" r="4.167"/>
<circle cx="140.5" cy="328.8" r="4.167"/><circle cx="173.4" cy="332.1" r="4.167"/><circle cx="145.7" cy="335.3" r="4.167"/><circle cx="165.7" cy="333.7" r="4.167"/>
<circle cx="156.5" cy="341.9" r="4.167"/><circle cx="147.3" cy="345.9" r="4.167"/><circle cx="155.2" cy="337.8" r="4.167"/><circle cx="151.1" cy="332.9" r="4.167"/>
<circle cx="176.3" cy="307.7" r="4.167"/><circle cx="135.0" cy="310.0" r="4.167"/><circle cx="136.5" cy="318.8" r="4.167"/><circle cx="138.1" cy="324.6" r="4.167"/>
<circle cx="139.2" cy="309.3" r="4.167"/><circle cx="137.6" cy="318.6" r="4.167"/><circle cx="140.2" cy="323.5" r="4.167"/><circle cx="142.5" cy="304.0" r="4.167"/>
<circle cx="147.0" cy="305.3" r="4.167"/><circle cx="173.0" cy="324.8" r="4.167"/><circle cx="161.7" cy="302.0" r="4.167"/><circle cx="170.6" cy="313.4" r="4.167"/>
<circle cx="158.9" cy="319.0" r="4.167"/><circle cx="158.6" cy="318.9" r="4.167"/><circle cx="157.7" cy="316.0" r="4.167"/><circle cx="159.8" cy="321.0" r="4.167"/>
<circle cx="156.1" cy="317.5" r="4.167"/><circle cx="162.5" cy="312.5" r="4.167"/><circle cx="157.9" cy="321.6" r="4.167"/><circle cx="154.5" cy="313.0" r="4.167"/>
<circle cx="161.1" cy="317.8" r="4.167"/><circle cx="150.4" cy="318.8" r="4.167"/><circle cx="158.5" cy="311.4" r="4.167"/><circle cx="160.5" cy="323.2" r="4.167"/>
<circle cx="150.9" cy="314.9" r="4.167"/><circle cx="165.1" cy="316.1" r="4.167"/><circle cx="154.0" cy="322.8" r="4.167"/><circle cx="155.7" cy="311.9" r="4.167"/>
<circle cx="163.7" cy="321.9" r="4.167"/><circle cx="150.5" cy="317.6" r="4.167"/><circle cx="164.8" cy="311.8" r="4.167"/><circle cx="155.3" cy="325.3" r="4.167"/>
<circle cx="153.8" cy="312.1" r="4.167"/><circle cx="165.2" cy="316.5" r="4.167"/><circle cx="153.5" cy="321.0" r="4.167"/><circle cx="159.7" cy="308.9" r="4.167"/>
<circle cx="161.1" cy="324.4" r="4.167"/><circle cx="148.0" cy="313.6" r="4.167"/><circle cx="165.1" cy="313.4" r="4.167"/><circle cx="157.1" cy="324.6" r="4.167"/>
<circle cx="155.9" cy="308.6" r="4.167"/><circle cx="165.4" cy="320.1" r="4.167"/><circle cx="148.3" cy="318.5" r="4.167"/><circle cx="163.2" cy="309.5" r="4.167"/>
<circle cx="157.8" cy="328.6" r="4.167"/><circle cx="149.5" cy="311.2" r="4.167"/><circle cx="168.1" cy="316.1" r="4.167"/><circle cx="152.0" cy="327.0" r="4.167"/>
<circle cx="158.0" cy="307.9" r="4.167"/><circle cx="167.1" cy="326.3" r="4.167"/><circle cx="146.9" cy="317.9" r="4.167"/><circle cx="166.6" cy="310.6" r="4.167"/>
<circle cx="154.1" cy="328.7" r="4.167"/><circle cx="150.8" cy="308.2" r="4.167"/><circle cx="166.1" cy="319.1" r="4.167"/><circle cx="149.4" cy="324.9" r="4.167"/>
<circle cx="162.2" cy="306.8" r="4.167"/><circle cx="159.3" cy="328.9" r="4.167"/><circle cx="146.2" cy="309.6" r="4.167"/><circle cx="167.8" cy="312.5" r="4.167"/>
<circle cx="152.4" cy="328.1" r="4.167"/><circle cx="158.0" cy="307.1" r="4.167"/><circle cx="167.7" cy="325.3" r="4.167"/><circle cx="143.9" cy="320.0" r="4.167"/>
<circle cx="165.4" cy="307.9" r="4.167"/><circle cx="158.6" cy="330.3" r="4.167"/><circle cx="148.3" cy="309.1" r="4.167"/><circle cx="171.5" cy="315.1" r="4.167"/>
<circle cx="147.0" cy="325.6" r="4.167"/><circle cx="158.8" cy="304.5" r="4.167"/><circle cx="166.3" cy="328.7" r="4.167"/><circle cx="144.6" cy="315.7" r="4.167"/>
<circle cx="169.9" cy="311.1" r="4.167"/><circle cx="156.2" cy="332.0" r="4.167"/><circle cx="151.0" cy="306.6" r="4.167"/><circle cx="169.6" cy="323.3" r="4.167"/>
<circle cx="142.5" cy="323.5" r="4.167"/><circle cx="162.2" cy="305.5" r="4.167"/><circle cx="163.9" cy="332.1" r="4.167"/><circle cx="145.9" cy="308.4" r="4.167"/>
<circle cx="171.4" cy="316.1" r="4.167"/><circle cx="146.0" cy="327.6" r="4.167"/><circle cx="158.0" cy="302.1" r="4.167"/><circle cx="169.7" cy="328.2" r="4.167"/>
<circle cx="141.8" cy="317.0" r="4.167"/><circle cx="170.3" cy="306.9" r="4.167"/><circle cx="156.1" cy="333.1" r="4.167"/><circle cx="147.9" cy="304.8" r="4.167"/>
<circle cx="173.1" cy="319.9" r="4.167"/><circle cx="144.7" cy="326.3" r="4.167"/><circle cx="164.0" cy="302.3" r="4.167"/><circle cx="163.9" cy="335.0" r="4.167"/>
<circle cx="144.5" cy="309.6" r="4.167"/><circle cx="171.6" cy="309.5" r="4.167"/><circle cx="151.9" cy="330.4" r="4.167"/><circle cx="152.6" cy="304.2" r="4.167"/>
<circle cx="170.6" cy="325.7" r="4.167"/><circle cx="142.6" cy="322.1" r="4.167"/><circle cx="168.5" cy="306.1" r="4.167"/><circle cx="158.9" cy="334.4" r="4.167"/>
<circle cx="143.4" cy="306.7" r="4.167"/><circle cx="173.8" cy="319.1" r="4.167"/><circle cx="146.4" cy="328.7" r="4.167"/><circle cx="158.2" cy="299.6" r="4.167"/>
<circle cx="167.6" cy="329.6" r="4.167"/><circle cx="141.2" cy="314.3" r="4.167"/><circle cx="171.6" cy="309.1" r="4.167"/><circle cx="152.4" cy="333.2" r="4.167"/>
<circle cx="147.8" cy="304.9" r="4.167"/><circle cx="175.9" cy="323.5" r="4.167"/><circle cx="142.2" cy="323.4" r="4.167"/><circle cx="165.7" cy="301.4" r="4.167"/>
<circle cx="160.0" cy="317.8" r="4.167"/><circle cx="154.5" cy="320.4" r="4.167"/><circle cx="151.7" cy="318.3" r="4.167"/><circle cx="155.5" cy="310.7" r="4.167"/>
<circle cx="161.3" cy="310.5" r="4.167"/><circle cx="150.1" cy="327.3" r="4.167"/><circle cx="166.1" cy="318.9" r="4.167"/><circle cx="164.5" cy="313.5" r="4.167"/>
<circle cx="156.3" cy="319.8" r="4.167"/><circle cx="160.1" cy="321.0" r="4.167"/><circle cx="150.3" cy="323.4" r="4.167"/><circle cx="151.5" cy="317.4" r="4.167"/>
<circle cx="155.2" cy="319.9" r="4.167"/><circle cx="153.8" cy="313.8" r="4.167"/><circle cx="153.3" cy="315.8" r="4.167"/><circle cx="158.2" cy="321.7" r="4.167"/>
<circle cx="159.9" cy="311.2" r="4.167"/><circle cx="165.8" cy="318.9" r="4.167"/><circle cx="167.6" cy="318.7" r="4.167"/><circle cx="168.3" cy="314.8" r="4.167"/>
<circle cx="156.3" cy="316.9" r="4.167"/><circle cx="156.8" cy="319.9" r="4.167"/><circle cx="159.4" cy="306.1" r="4.167"/><circle cx="151.3" cy="312.7" r="4.167"/>
<circle cx="161.1" cy="315.4" r="4.167"/><circle cx="161.6" cy="321.2" r="4.167"/><circle cx="158.9" cy="305.5" r="4.167"/><circle cx="169.1" cy="320.6" r="4.167"/>
<circle cx="155.2" cy="320.1" r="4.167"/><circle cx="155.8" cy="318.8" r="4.167"/><circle cx="157.2" cy="321.2" r="4.167"/><circle cx="155.1" cy="323.7" r="4.167"/>
<circle cx="167.6" cy="320.4" r="4.167"/><circle cx="154.8" cy="320.7" r="4.167"/><circle cx="158.6" cy="324.3" r="4.167"/><circle cx="95.2" cy="200.8" r="4.167"/>
<circle cx="95.7" cy="205.2" r="4.167"/><circle cx="96.0" cy="204.9" r="4.167"/><circle cx="99.3" cy="206.8" r="4.167"/><circle cx="109.8" cy="198.5" r="4.167"/>
<circle cx="111.5" cy="200.3" r="4.167"/><circle cx="124.5" cy="199.2" r="4.167"/><circle cx="129.8" cy="203.1" r="4.167"/><circle cx="141.5" cy="206.0" r="4.167"/>
<circle cx="137.5" cy="207.6" r="4.167"/><circle cx="139.1" cy="213.3" r="4.167"/><circle cx="96.8" cy="220.3" r="4.167"/><circle cx="102.5" cy="223.1" r="4.167"/>
<circle cx="138.3" cy="223.9" r="4.167"/><circle cx="139.1" cy="230.4" r="4.167"/><circle cx="135.0" cy="235.3" r="4.167"/><circle cx="135.4" cy="235.0" r="4.167"/>
<circle cx="134.2" cy="232.0" r="4.167"/><circle cx="100.1" cy="230.4" r="4.167"/><circle cx="105.8" cy="238.9" r="4.167"/><circle cx="113.6" cy="243.1" r="4.167"/>
<circle cx="120.4" cy="243.4" r="4.167"/><circle cx="118.0" cy="239.3" r="4.167"/><circle cx="101.7" cy="227.2" r="4.167"/><circle cx="110.7" cy="235.3" r="4.167"/>
<circle cx="105.0" cy="207.6" r="4.167"/><circle cx="103.8" cy="233.7" r="4.167"/><circle cx="109.3" cy="237.2" r="4.167"/><circle cx="116.3" cy="237.7" r="4.167"/>
<circle cx="122.4" cy="236.1" r="4.167"/><circle cx="135.9" cy="220.7" r="4.167"/><circle cx="126.9" cy="204.4" r="4.167"/><circle cx="118.8" cy="199.8" r="4.167"/>
<circle cx="118.7" cy="219.2" r="4.167"/><circle cx="114.9" cy="220.0" r="4.167"/><circle cx="117.2" cy="215.8" r="4.167"/><circle cx="121.3" cy="220.8" r="4.167"/>
<circle cx="113.5" cy="217.3" r="4.167"/><circle cx="121.3" cy="215.8" r="4.167"/><circle cx="115.9" cy="224.0" r="4.167"/><circle cx="116.0" cy="213.1" r="4.167"/>
<circle cx="123.4" cy="220.6" r="4.167"/><circle cx="113.8" cy="221.0" r="4.167"/><circle cx="121.1" cy="212.9" r="4.167"/><circle cx="117.8" cy="224.8" r="4.167"/>
<circle cx="114.0" cy="215.4" r="4.167"/><circle cx="123.6" cy="219.0" r="4.167"/><circle cx="112.0" cy="225.7" r="4.167"/><circle cx="117.6" cy="211.0" r="4.167"/>
<circle cx="121.7" cy="222.6" r="4.167"/><circle cx="111.6" cy="218.1" r="4.167"/><circle cx="122.5" cy="214.9" r="4.167"/><circle cx="114.6" cy="226.9" r="4.167"/>
<circle cx="112.5" cy="211.8" r="4.167"/><circle cx="124.6" cy="219.5" r="4.167"/><circle cx="109.2" cy="222.6" r="4.167"/><circle cx="118.6" cy="209.3" r="4.167"/>
<circle cx="119.2" cy="229.1" r="4.167"/><circle cx="111.4" cy="217.4" r="4.167"/><circle cx="124.3" cy="212.2" r="4.167"/><circle cx="113.6" cy="227.8" r="4.167"/>
<circle cx="113.8" cy="209.0" r="4.167"/><circle cx="124.8" cy="225.6" r="4.167"/><circle cx="109.2" cy="221.2" r="4.167"/><circle cx="120.8" cy="212.1" r="4.167"/>
<circle cx="119.0" cy="228.6" r="4.167"/><circle cx="109.8" cy="211.7" r="4.167"/><circle cx="126.4" cy="220.3" r="4.167"/><circle cx="111.1" cy="227.2" r="4.167"/>
<circle cx="116.3" cy="208.4" r="4.167"/><circle cx="121.8" cy="228.6" r="4.167"/><circle cx="107.2" cy="218.4" r="4.167"/><circle cx="125.1" cy="213.8" r="4.167"/>
<circle cx="116.2" cy="230.7" r="4.167"/><circle cx="109.4" cy="208.3" r="4.167"/><circle cx="125.5" cy="220.5" r="4.167"/><circle cx="107.1" cy="225.1" r="4.167"/>
<circle cx="120.5" cy="207.5" r="4.167"/><circle cx="119.8" cy="228.6" r="4.167"/><circle cx="106.0" cy="214.7" r="4.167"/><circle cx="127.2" cy="215.8" r="4.167"/>
<circle cx="111.9" cy="228.1" r="4.167"/><circle cx="114.7" cy="203.8" r="4.167"/><circle cx="126.7" cy="225.9" r="4.167"/><circle cx="106.4" cy="220.2" r="4.167"/>
<circle cx="124.9" cy="208.5" r="4.167"/><circle cx="117.4" cy="230.7" r="4.167"/><circle cx="108.8" cy="209.6" r="4.167"/><circle cx="129.5" cy="218.8" r="4.167"/>
<circle cx="106.4" cy="224.8" r="4.167"/><circle cx="118.3" cy="204.3" r="4.167"/><circle cx="124.3" cy="231.7" r="4.167"/><circle cx="104.6" cy="217.0" r="4.167"/>
<circle cx="128.8" cy="210.6" r="4.167"/><circle cx="112.8" cy="232.6" r="4.167"/><circle cx="110.4" cy="203.5" r="4.167"/><circle cx="129.2" cy="223.4" r="4.167"/>
<circle cx="104.7" cy="224.1" r="4.167"/><circle cx="123.0" cy="206.2" r="4.167"/><circle cx="121.9" cy="234.2" r="4.167"/><circle cx="104.5" cy="211.8" r="4.167"/>
<circle cx="129.6" cy="216.7" r="4.167"/><circle cx="110.3" cy="232.5" r="4.167"/><circle cx="117.1" cy="203.7" r="4.167"/><circle cx="127.1" cy="227.1" r="4.167"/>
<circle cx="104.8" cy="218.8" r="4.167"/><circle cx="125.4" cy="206.8" r="4.167"/><circle cx="114.2" cy="232.9" r="4.167"/><circle cx="108.7" cy="206.0" r="4.167"/>
<circle cx="129.4" cy="221.1" r="4.167"/><circle cx="107.2" cy="226.5" r="4.167"/><circle cx="119.7" cy="206.1" r="4.167"/><circle cx="122.2" cy="233.3" r="4.167"/>
<circle cx="105.3" cy="213.2" r="4.167"/><circle cx="129.6" cy="214.2" r="4.167"/><circle cx="111.2" cy="233.9" r="4.167"/><circle cx="113.9" cy="203.8" r="4.167"/>
<circle cx="128.1" cy="225.4" r="4.167"/><circle cx="102.2" cy="221.8" r="4.167"/><circle cx="125.0" cy="205.3" r="4.167"/><circle cx="118.0" cy="235.6" r="4.167"/>
<circle cx="104.5" cy="206.2" r="4.167"/><circle cx="131.2" cy="217.2" r="4.167"/><circle cx="105.7" cy="229.7" r="4.167"/><circle cx="117.0" cy="202.0" r="4.167"/>
<circle cx="124.2" cy="232.8" r="4.167"/><circle cx="102.6" cy="215.3" r="4.167"/><circle cx="128.0" cy="207.6" r="4.167"/><circle cx="111.7" cy="236.2" r="4.167"/>
<circle cx="111.7" cy="203.1" r="4.167"/><circle cx="131.7" cy="221.4" r="4.167"/><circle cx="116.8" cy="215.1" r="4.167"/><circle cx="117.5" cy="214.1" r="4.167"/>
<circle cx="113.5" cy="213.8" r="4.167"/><circle cx="114.0" cy="230.3" r="4.167"/><circle cx="120.5" cy="210.5" r="4.167"/><circle cx="116.0" cy="216.6" r="4.167"/>
<circle cx="120.3" cy="223.4" r="4.167"/><circle cx="116.4" cy="209.6" r="4.167"/><circle cx="112.2" cy="214.9" r="4.167"/><circle cx="116.1" cy="214.9" r="4.167"/>
<circle cx="110.5" cy="222.3" r="4.167"/><circle cx="117.8" cy="216.5" r="4.167"/><circle cx="114.7" cy="215.1" r="4.167"/><circle cx="115.5" cy="215.3" r="4.167"/>
<circle cx="124.6" cy="216.7" r="4.167"/><circle cx="118.7" cy="212.9" r="4.167"/><circle cx="115.2" cy="208.2" r="4.167"/><circle cx="119.6" cy="230.7" r="4.167"/>
<circle cx="118.5" cy="220.9" r="4.167"/><circle cx="123.1" cy="225.6" r="4.167"/><circle cx="112.9" cy="214.5" r="4.167"/><circle cx="115.6" cy="226.1" r="4.167"/>
<circle cx="111.4" cy="215.6" r="4.167"/><circle cx="116.1" cy="219.0" r="4.167"/><circle cx="118.3" cy="216.7" r="4.167"/><circle cx="123.3" cy="214.5" r="4.167"/>
<circle cx="127.5" cy="220.0" r="4.167"/><circle cx="120.6" cy="211.6" r="4.167"/><circle cx="118.8" cy="211.6" r="4.167"/><circle cx="109.9" cy="223.3" r="4.167"/>
<circle cx="117.1" cy="212.0" r="4.167"/><circle cx="107.0" cy="222.9" r="4.167"/><circle cx="117.2" cy="223.2" r="4.167"/><circle cx="121.8" cy="225.2" r="4.167"/>
<circle cx="120.3" cy="207.5" r="4.167"/><circle cx="161.3" cy="89.4" r="4.167"/><circle cx="143.0" cy="95.1" r="4.167"/><circle cx="145.1" cy="97.2" r="4.167"/>
<circle cx="142.5" cy="100.4" r="4.167"/><circle cx="170.3" cy="95.9" r="4.167"/><circle cx="177.6" cy="98.3" r="4.167"/><circle cx="157.6" cy="100.8" r="4.167"/>
<circle cx="157.9" cy="100.5" r="4.167"/><circle cx="158.3" cy="100.2" r="4.167"/><circle cx="167.3" cy="102.4" r="4.167"/><circle cx="130.3" cy="111.0" r="4.167"/>
<circle cx="138.1" cy="112.1" r="4.167"/><circle cx="141.3" cy="113.8" r="4.167"/><circle cx="147.8" cy="108.1" r="4.167"/><circle cx="177.9" cy="109.2" r="4.167"/>
<circle cx="188.2" cy="119.1" r="4.167"/><circle cx="135.3" cy="121.6" r="4.167"/><circle cx="132.9" cy="126.0" r="4.167"/><circle cx="142.1" cy="121.9" r="4.167"/>
<circle cx="142.1" cy="129.2" r="4.167"/><circle cx="145.4" cy="130.0" r="4.167"/><circle cx="148.7" cy="134.1" r="4.167"/><circle cx="156.8" cy="140.6" r="4.167"/>
<circle cx="157.1" cy="140.3" r="4.167"/><circle cx="167.3" cy="138.2" r="4.167"/><circle cx="171.7" cy="132.5" r="4.167"/><circle cx="177.1" cy="124.3" r="4.167"/>
<circle cx="174.7" cy="121.9" r="4.167"/><circle cx="164.9" cy="134.9" r="4.167"/><circle cx="167.7" cy="102.7" r="4.167"/><circle cx="149.0" cy="134.4" r="4.167"/>
<circle cx="148.3" cy="111.3" r="4.167"/><circle cx="147.0" cy="118.7" r="4.167"/><circle cx="147.8" cy="126.8" r="4.167"/><circle cx="161.7" cy="104.0" r="4.167"/>
<circle cx="155.2" cy="104.8" r="4.167"/><circle cx="162.7" cy="118.4" r="4.167"/><circle cx="159.8" cy="119.8" r="4.167"/><circle cx="161.8" cy="115.7" r="4.167"/>
<circle cx="161.1" cy="121.5" r="4.167"/><circle cx="154.9" cy="120.4" r="4.167"/><circle cx="161.3" cy="116.5" r="4.167"/><circle cx="158.7" cy="124.6" r="4.167"/>
<circle cx="157.6" cy="118.6" r="4.167"/><circle cx="164.2" cy="121.1" r="4.167"/><circle cx="156.8" cy="121.6" r="4.167"/><circle cx="161.0" cy="114.8" r="4.167"/>
<circle cx="162.0" cy="126.8" r="4.167"/><circle cx="156.3" cy="117.8" r="4.167"/><circle cx="162.8" cy="118.4" r="4.167"/><circle cx="157.2" cy="126.8" r="4.167"/>
<circle cx="161.5" cy="114.1" r="4.167"/><circle cx="165.4" cy="123.9" r="4.167"/><circle cx="153.5" cy="120.2" r="4.167"/><circle cx="164.2" cy="115.7" r="4.167"/>
<circle cx="160.9" cy="126.4" r="4.167"/><circle cx="157.6" cy="113.3" r="4.167"/><circle cx="166.9" cy="121.1" r="4.167"/><circle cx="152.6" cy="124.8" r="4.167"/>
<circle cx="162.7" cy="114.8" r="4.167"/><circle cx="163.8" cy="127.2" r="4.167"/><circle cx="154.3" cy="115.6" r="4.167"/><circle cx="167.4" cy="114.9" r="4.167"/>
<circle cx="157.8" cy="128.2" r="4.167"/><circle cx="158.1" cy="109.8" r="4.167"/><circle cx="169.0" cy="124.2" r="4.167"/><circle cx="154.0" cy="121.3" r="4.167"/>
<circle cx="164.2" cy="115.3" r="4.167"/><circle cx="161.5" cy="128.0" r="4.167"/><circle cx="153.4" cy="115.7" r="4.167"/><circle cx="166.8" cy="118.8" r="4.167"/>
<circle cx="153.5" cy="129.6" r="4.167"/><circle cx="161.7" cy="110.9" r="4.167"/><circle cx="166.5" cy="126.6" r="4.167"/><circle cx="151.0" cy="118.9" r="4.167"/>
<circle cx="169.6" cy="113.8" r="4.167"/><circle cx="158.4" cy="129.9" r="4.167"/><circle cx="157.3" cy="112.2" r="4.167"/><circle cx="168.0" cy="122.7" r="4.167"/>
<circle cx="152.0" cy="123.0" r="4.167"/><circle cx="162.8" cy="110.8" r="4.167"/><circle cx="163.5" cy="131.5" r="4.167"/><circle cx="152.0" cy="114.9" r="4.167"/>
<circle cx="169.7" cy="115.8" r="4.167"/><circle cx="154.6" cy="130.1" r="4.167"/><circle cx="158.2" cy="107.2" r="4.167"/><circle cx="167.0" cy="126.9" r="4.167"/>
<circle cx="148.9" cy="120.9" r="4.167"/><circle cx="168.4" cy="111.3" r="4.167"/><circle cx="160.4" cy="130.6" r="4.167"/><circle cx="154.3" cy="111.1" r="4.167"/>
<circle cx="169.5" cy="120.7" r="4.167"/><circle cx="154.1" cy="127.7" r="4.167"/><circle cx="163.8" cy="110.0" r="4.167"/><circle cx="165.2" cy="129.7" r="4.167"/>
<circle cx="149.6" cy="117.4" r="4.167"/><circle cx="171.5" cy="115.9" r="4.167"/><circle cx="157.9" cy="132.9" r="4.167"/><circle cx="155.0" cy="110.0" r="4.167"/>
<circle cx="169.6" cy="124.4" r="4.167"/><circle cx="148.2" cy="125.6" r="4.167"/><circle cx="165.3" cy="110.1" r="4.167"/><circle cx="161.8" cy="132.4" r="4.167"/>
<circle cx="151.6" cy="113.3" r="4.167"/><circle cx="172.3" cy="118.2" r="4.167"/><circle cx="153.1" cy="129.6" r="4.167"/><circle cx="158.5" cy="108.5" r="4.167"/>
<circle cx="169.3" cy="129.0" r="4.167"/><circle cx="148.8" cy="118.4" r="4.167"/><circle cx="167.9" cy="109.7" r="4.167"/><circle cx="161.4" cy="132.9" r="4.167"/>
<circle cx="153.9" cy="107.3" r="4.167"/><circle cx="172.3" cy="122.6" r="4.167"/><circle cx="149.2" cy="128.5" r="4.167"/><circle cx="163.5" cy="107.0" r="4.167"/>
<circle cx="167.6" cy="134.2" r="4.167"/><circle cx="148.9" cy="114.7" r="4.167"/><circle cx="172.1" cy="116.4" r="4.167"/><circle cx="153.6" cy="131.3" r="4.167"/>
<circle cx="155.5" cy="108.0" r="4.167"/><circle cx="172.2" cy="126.1" r="4.167"/><circle cx="146.7" cy="122.9" r="4.167"/><circle cx="167.5" cy="107.2" r="4.167"/>
<circle cx="161.0" cy="133.9" r="4.167"/><circle cx="149.5" cy="110.6" r="4.167"/><circle cx="173.4" cy="118.7" r="4.167"/><circle cx="151.2" cy="130.7" r="4.167"/>
<circle cx="158.8" cy="105.7" r="4.167"/><circle cx="158.3" cy="115.1" r="4.167"/><circle cx="163.8" cy="121.3" r="4.167"/><circle cx="163.0" cy="117.4" r="4.167"/>
<circle cx="168.6" cy="122.5" r="4.167"/><circle cx="157.7" cy="129.3" r="4.167"/><circle cx="156.6" cy="127.4" r="4.167"/><circle cx="159.0" cy="117.0" r="4.167"/>
<circle cx="157.0" cy="115.0" r="4.167"/><circle cx="156.1" cy="121.7" r="4.167"/><circle cx="159.9" cy="112.0" r="4.167"/><circle cx="161.3" cy="112.6" r="4.167"/>
<circle cx="162.6" cy="117.6" r="4.167"/><circle cx="159.3" cy="125.7" r="4.167"/><circle cx="162.9" cy="116.6" r="4.167"/><circle cx="165.3" cy="119.0" r="4.167"/>
<circle cx="159.0" cy="116.0" r="4.167"/><circle cx="166.7" cy="124.1" r="4.167"/><circle cx="153.8" cy="119.4" r="4.167"/><circle cx="154.4" cy="124.5" r="4.167"/>
<circle cx="156.2" cy="119.6" r="4.167"/><circle cx="162.9" cy="119.0" r="4.167"/><circle cx="154.7" cy="117.7" r="4.167"/><circle cx="154.2" cy="126.9" r="4.167"/>
<circle cx="164.6" cy="111.3" r="4.167"/><circle cx="163.4" cy="118.4" r="4.167"/><circle cx="164.6" cy="121.7" r="4.167"/><circle cx="164.0" cy="118.1" r="4.167"/>
<circle cx="167.8" cy="121.2" r="4.167"/><circle cx="154.9" cy="119.7" r="4.167"/><circle cx="158.9" cy="121.9" r="4.167"/><circle cx="161.6" cy="120.5" r="4.167"/>
<circle cx="156.5" cy="121.0" r="4.167"/><circle cx="157.7" cy="127.9" r="4.167"/><circle cx="155.1" cy="118.6" r="4.167"/><circle cx="158.0" cy="115.0" r="4.167"/>

</g>
<g class="ax">
<line x1="106.50" y1="402.5" x2="106.50" y2="407.5"/><line x1="73.5" y1="369.50" x2="68.5" y2="369.50"/>
<line x1="157.50" y1="402.5" x2="157.50" y2="407.5"/><line x1="73.5" y1="318.50" x2="68.5" y2="318.50"/>
<line x1="207.50" y1="402.5" x2="207.50" y2="407.5"/><line x1="73.5" y1="268.50" x2="68.5" y2="268.50"/>
<line x1="258.50" y1="402.5" x2="258.50" y2="407.5"/><line x1="73.5" y1="217.50" x2="68.5" y2="217.50"/>
<line x1="309.50" y1="402.5" x2="309.50" y2="407.5"/><line x1="73.5" y1="166.50" x2="68.5" y2="166.50"/>
<line x1="359.50" y1="402.5" x2="359.50" y2="407.5"/><line x1="73.5" y1="116.50" x2="68.5" y2="116.50"/>
<line x1="410.50" y1="402.5" x2="410.50" y2="407.5"/><line x1="73.5" y1="65.50" x2="68.5" y2="65.50"/>
<rect x="73.5" y="32.5" width="370" height="370" stroke-linejoin="miter"/>
</g>
<g class="t">
<text x="104.90" y="423" text-anchor="middle">−1.5</text><text x="62.66" y="374.84" text-anchor="end">−1.5</text>
<text x="156.03" y="423" text-anchor="middle">−1.0</text><text x="62.8" y="323.84" text-anchor="end">−1.0</text>
<text x="206.80" y="423" text-anchor="middle">−0.5</text><text x="62.52" y="272.88" text-anchor="end">−0.5</text>
<text x="258.42" y="423" text-anchor="middle">0.0</text><text x="63.32" y="222.97" text-anchor="end">0.0</text>
<text x="308.35" y="423" text-anchor="middle">0.5</text><text x="63.27" y="171.89" text-anchor="end">0.5</text>
<text x="359.57" y="423" text-anchor="middle">1.0</text><text x="63.5" y="120.85" text-anchor="end">1.0</text>
<text x="409.50" y="423" text-anchor="middle">1.5</text><text x="63.41" y="70.86" text-anchor="end">1.5</text>
<text x="258" y="441.5" text-anchor="middle">x</text>
<text transform="translate(19.5,218) rotate(-90)" text-anchor="middle">y</text>
</g>
<text class="ttl" x="257.55" y="23.7" text-anchor="middle">2D points in data space</text>
<rect x="449.5" y="204.5" width="162" height="25" rx="2.2" ry="2.2" fill="#fff" fill-opacity=".8" stroke="#ccc" stroke-opacity=".8" stroke-width="1.111"/>
<circle class="pt" cx="469.5" cy="217.5" r="4.167"/>
<text class="t" x="493.7" y="220.5">mapped sim pts</text>
</svg>
</body>
</html>
